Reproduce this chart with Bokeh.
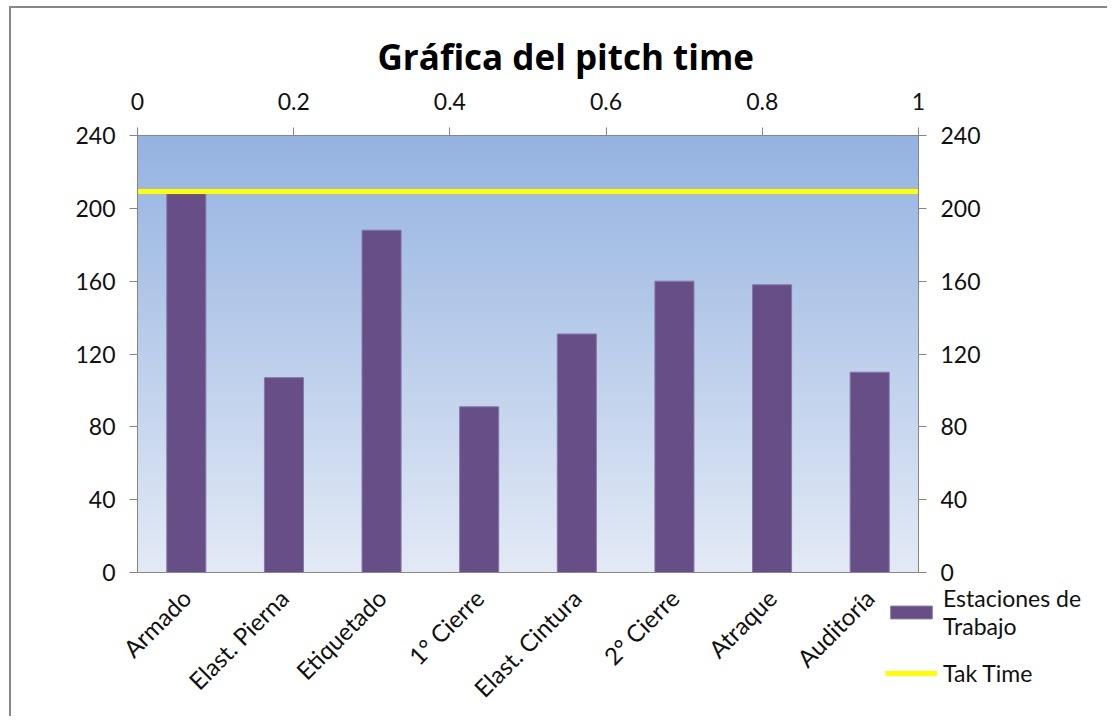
import numpy as np
from bokeh.plotting import figure
from bokeh.models import (Range1d, LinearAxis, FixedTicker, Legend, LegendItem,
                          InlineStyleSheet, ColumnDataSource)
from bokeh.embed import file_html
from bokeh.resources import INLINE

# ---- data ----
estaciones = ["Armado", "Elast. Pierna", "Etiquetado", "1° Cierre",
              "Elast. Cintura", "2° Cierre", "Atraque", "Auditoría"]
tiempos = [208, 107, 188, 91, 131, 160, 158, 110]
tak_time = [209]
y_ticks = [0, 40, 80, 120, 160, 200, 240]
top_ticks = [0, 0.2, 0.4, 0.6, 0.8, 1]
top_labels = ["0", "0.2", "0.4", "0.6", "0.8", "1"]

FONT = "Lato"
AXIS_COLOR = "#868686"
BAR_FILL = "#674E86"
BAR_LINE = "#8677A6"
TAK_COLOR = "#FFFF00"

idx = list(range(len(estaciones)))
src = ColumnDataSource(dict(x=idx, top=tiempos, name=estaciones))

p = figure(width=1098, height=710, output_backend="svg", toolbar_location=None,
           x_range=Range1d(-0.5, len(estaciones) - 0.5), y_range=Range1d(0, 240),
           min_border_left=126, min_border_right=191, min_border_top=127,
           min_border_bottom=146, x_axis_location=None, y_axis_location=None,
           title="Gráfica del pitch time")

p.stylesheets = [InlineStyleSheet(css=":host { margin-left: 9px; margin-top: 6px; border: none; border-left: 2px solid #878787; border-top: 2px solid #878787; }")]

p.grid.visible = False
p.outline_line_color = AXIS_COLOR
p.background_fill_color = None
p.border_fill_color = "white"

# title
p.title.text_font = "Open Sans"
p.title.text_font_style = "bold"
p.title.text_font_size = "35px"
p.title.align = "left"
p.title.offset = 240
p.title.standoff = 19
p.title.text_color = "black"

# gradient plot area background
n = 256
top_c = np.array([149, 179, 225])
bot_c = np.array([227, 234, 246])
t = np.linspace(0, 1, n)[:, None]
cols = (bot_c[None, :] * (1 - t) + top_c[None, :] * t).astype(np.uint32)
img = np.empty((n, 1), dtype=np.uint32)
view = img.view(dtype=np.uint8).reshape((n, 1, 4))
view[:, 0, 0] = cols[:, 0]
view[:, 0, 1] = cols[:, 1]
view[:, 0, 2] = cols[:, 2]
view[:, 0, 3] = 255
p.image_rgba(image=[img], x=-0.5, y=0, dw=len(estaciones), dh=240, level="image")

bars = p.vbar(x="x", top="top", width=0.4, source=src, fill_color=BAR_FILL,
              line_color=BAR_LINE, line_width=1)
tak = p.hspan(y=tak_time, line_color=TAK_COLOR, line_width=5)

def style_axis(ax):
    ax.axis_line_color = AXIS_COLOR
    ax.major_tick_line_color = AXIS_COLOR
    ax.minor_tick_line_color = None
    ax.major_tick_in = 0
    ax.major_tick_out = 8
    ax.major_label_text_font = FONT
    ax.major_label_text_font_size = "23px"
    ax.major_label_text_color = "#111111"

left = LinearAxis(ticker=FixedTicker(ticks=y_ticks))
right = LinearAxis(ticker=FixedTicker(ticks=y_ticks))
for ax in (left, right):
    style_axis(ax)
    ax.major_label_standoff = 14
p.add_layout(left, "left")
p.add_layout(right, "right")

p.extra_x_ranges = {"top": Range1d(0, 1)}
top_ax = LinearAxis(x_range_name="top", ticker=FixedTicker(ticks=top_ticks),
                    major_label_overrides={k: v for k, v in zip(top_ticks, top_labels)})
style_axis(top_ax)
top_ax.major_label_standoff = 18
p.add_layout(top_ax, "above")

bottom = LinearAxis(ticker=FixedTicker(ticks=idx),
                    major_label_overrides={i: s for i, s in zip(idx, estaciones)})
style_axis(bottom)
bottom.major_tick_line_color = None
bottom.major_label_orientation = np.pi / 4
bottom.major_label_standoff = 13
bottom.major_label_text_font_size = "24px"
p.add_layout(bottom, "below")

# ---- legend, in a small overlay figure (same series, out of its view) ----
leg = figure(width=226, height=120, output_backend="svg", toolbar_location=None,
             x_range=Range1d(100, 101), y_range=Range1d(1000, 1001),
             min_border=0, x_axis_location=None, y_axis_location=None)
leg.stylesheets = [InlineStyleSheet(css=":host { position: absolute; left: 877px; top: 576px; }")]
leg.grid.visible = False
leg.outline_line_color = None
leg.background_fill_color = None
leg.border_fill_color = None
lbars = leg.vbar(x="x", top="top", width=0.4, source=src, fill_color=BAR_FILL,
                 line_color=BAR_LINE, line_width=1)
ltak = leg.hspan(y=tak_time, line_color=TAK_COLOR, line_width=5)
legend = Legend(items=[LegendItem(label="Estaciones de\nTrabajo", renderers=[lbars]),
                       LegendItem(label="Tak Time", renderers=[ltak])],
                location="top_left", padding=0, margin=8, border_line_color=None,
                background_fill_alpha=0, glyph_width=52, glyph_height=16,
                label_standoff=6, label_text_font=FONT, label_text_font_size="23px",
                label_text_color="#111111", spacing=19)
leg.add_layout(legend, "center")

open("out.html", "w").write(file_html([p, leg], INLINE))
